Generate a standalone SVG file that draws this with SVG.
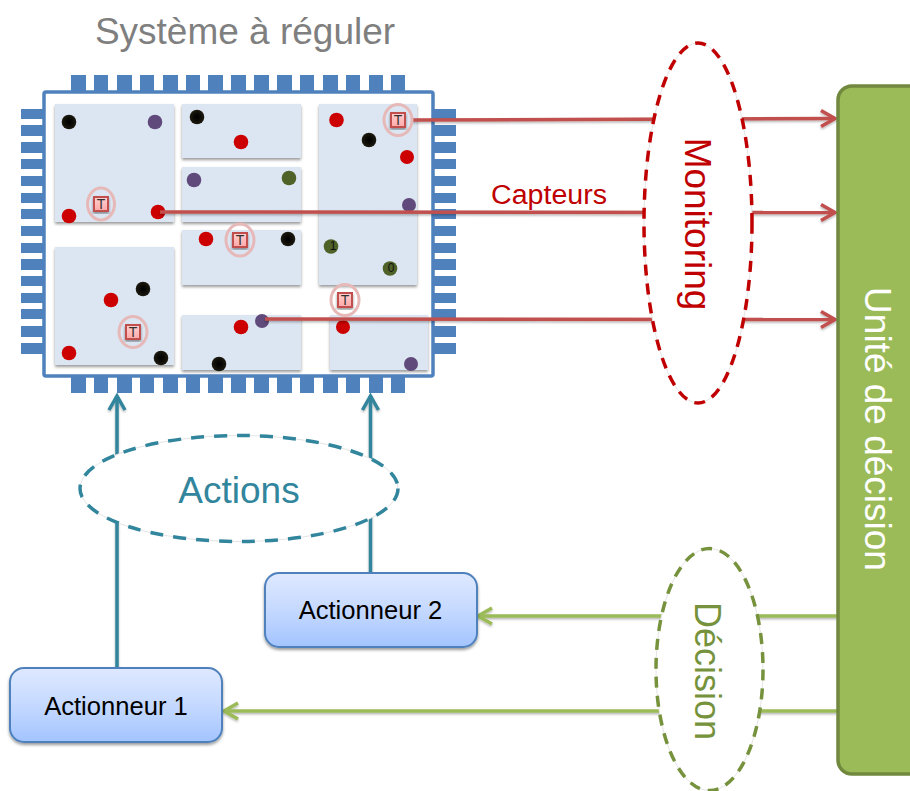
<svg xmlns="http://www.w3.org/2000/svg" width="910" height="791" viewBox="0 0 910 791">
<style>
text{font-family:"Liberation Sans",Arial,sans-serif}
.pin{fill:#4f81bd}
.panel{fill:#dce6f2;filter:url(#sh)}
.k{fill:url(#blk)}.r{fill:#cc0000}.p{fill:#604a7b}.o{fill:#4f6228}
.ring{fill:none;stroke:#e6b9b8;stroke-width:3}
.sq{fill:url(#pink);stroke:#c0504d;stroke-width:2;filter:url(#sh)}
.tt{font-size:14px;fill:#333;text-anchor:middle}
.num{font-size:12px;fill:#111;text-anchor:middle}
.red{stroke:#c0504d;stroke-width:3.5;fill:none;filter:url(#ln)}
.grn{stroke:#9bbb59;stroke-width:3.5;fill:none;filter:url(#ln)}
.teal{stroke:#31859c;stroke-width:3.5;fill:none;filter:url(#ln)}
.act{fill:url(#blue);stroke:#4f81bd;stroke-width:2;filter:url(#sh)}
.lab{font-size:25.6px;fill:#000;text-anchor:middle}
.big{font-size:37px;text-anchor:middle}
.halo{fill:#fff;stroke:#e4e4e4;stroke-width:1}
.dash{fill:none;stroke-width:3.5;stroke-dasharray:11 8}
</style>
<defs>
<filter id="sh" x="-15%" y="-15%" width="130%" height="135%"><feDropShadow dx="0" dy="2" stdDeviation="1.5" flood-color="#000" flood-opacity=".4"/></filter>
<filter id="ln" filterUnits="userSpaceOnUse" x="0" y="0" width="910" height="791"><feDropShadow dx="0" dy="1.5" stdDeviation="1" flood-color="#000" flood-opacity=".3"/></filter>
<radialGradient id="blk"><stop offset="0" stop-color="#000"/><stop offset=".5" stop-color="#0c0b06"/><stop offset="1" stop-color="#1d1b10"/></radialGradient>
<linearGradient id="pink" x1="0" y1="0" x2="0" y2="1"><stop offset="0" stop-color="#ffd0d0"/><stop offset="1" stop-color="#ffa8a8"/></linearGradient>
<linearGradient id="blue" x1="0" y1="0" x2="0" y2="1"><stop offset="0" stop-color="#dfe9ff"/><stop offset=".5" stop-color="#c5d9ff"/><stop offset="1" stop-color="#a3c4ff"/></linearGradient>
<marker id="aR" markerUnits="userSpaceOnUse" markerWidth="20" markerHeight="24" refX="16" refY="12" orient="auto" overflow="visible"><path d="M2,4 L16,12 L2,20" fill="none" stroke="#c0504d" stroke-width="3.5"/></marker>
<marker id="aG" markerUnits="userSpaceOnUse" markerWidth="20" markerHeight="24" refX="16" refY="12" orient="auto" overflow="visible"><path d="M2,4 L16,12 L2,20" fill="none" stroke="#9bbb59" stroke-width="3.5"/></marker>
<marker id="aT" markerUnits="userSpaceOnUse" markerWidth="20" markerHeight="24" refX="16" refY="12" orient="auto" overflow="visible"><path d="M2,4 L16,12 L2,20" fill="none" stroke="#31859c" stroke-width="3.5"/></marker>
</defs>
<rect width="910" height="791" fill="#fff"/>

<g id="chip">
<g class="pin">
<rect x="71" y="75" width="15" height="17"/><rect x="94" y="75" width="14" height="17"/><rect x="117" y="75" width="15" height="17"/><rect x="140" y="75" width="14" height="17"/><rect x="163" y="75" width="15" height="17"/><rect x="186" y="75" width="14" height="17"/><rect x="208" y="75" width="15" height="17"/><rect x="231" y="75" width="15" height="17"/><rect x="254" y="75" width="15" height="17"/><rect x="277" y="75" width="15" height="17"/><rect x="300" y="75" width="14" height="17"/><rect x="323" y="75" width="15" height="17"/><rect x="346" y="75" width="14" height="17"/><rect x="369" y="75" width="14" height="17"/><rect x="391" y="75" width="14" height="17"/>
<rect x="71" y="375" width="15" height="18"/><rect x="94" y="375" width="14" height="18"/><rect x="117" y="375" width="15" height="18"/><rect x="140" y="375" width="14" height="18"/><rect x="163" y="375" width="15" height="18"/><rect x="186" y="375" width="14" height="18"/><rect x="208" y="375" width="15" height="18"/><rect x="231" y="375" width="15" height="18"/><rect x="254" y="375" width="15" height="18"/><rect x="277" y="375" width="15" height="18"/><rect x="300" y="375" width="14" height="18"/><rect x="323" y="375" width="15" height="18"/><rect x="346" y="375" width="14" height="18"/><rect x="369" y="375" width="14" height="18"/><rect x="391" y="375" width="14" height="18"/>
<rect x="21" y="109" width="23" height="10"/><rect x="21" y="125" width="23" height="11"/><rect x="21" y="142" width="23" height="11"/><rect x="21" y="159" width="23" height="10"/><rect x="21" y="176" width="23" height="10"/><rect x="21" y="193" width="23" height="10"/><rect x="21" y="209" width="23" height="10"/><rect x="21" y="226" width="23" height="10"/><rect x="21" y="243" width="23" height="10"/><rect x="21" y="259" width="23" height="11"/><rect x="21" y="276" width="23" height="10"/><rect x="21" y="293" width="23" height="10"/><rect x="21" y="309" width="23" height="10"/><rect x="21" y="326" width="23" height="11"/><rect x="21" y="343" width="23" height="11"/>
<rect x="432" y="109" width="24" height="10"/><rect x="432" y="125" width="24" height="11"/><rect x="432" y="142" width="24" height="11"/><rect x="432" y="159" width="24" height="10"/><rect x="432" y="176" width="24" height="10"/><rect x="432" y="193" width="24" height="10"/><rect x="432" y="209" width="24" height="10"/><rect x="432" y="226" width="24" height="10"/><rect x="432" y="243" width="24" height="10"/><rect x="432" y="259" width="24" height="11"/><rect x="432" y="276" width="24" height="10"/><rect x="432" y="293" width="24" height="10"/><rect x="432" y="309" width="24" height="10"/><rect x="432" y="326" width="24" height="11"/><rect x="432" y="343" width="24" height="11"/>
</g>
<rect x="44" y="92" width="389" height="284" rx="2" fill="#fff" stroke="#4f81bd" stroke-width="3.5"/>
<rect class="panel" x="55" y="104" width="119" height="118"/>
<rect class="panel" x="182" y="104" width="119" height="54"/>
<rect class="panel" x="182" y="167" width="119" height="55"/>
<rect class="panel" x="182" y="230" width="119" height="55"/>
<rect class="panel" x="55" y="247" width="119" height="118"/>
<rect class="panel" x="182" y="315" width="119" height="55"/>
<rect class="panel" x="319" y="104" width="98" height="181"/>
<rect class="panel" x="330" y="315" width="98" height="55"/>
<circle class="k" cx="69" cy="122" r="7.3"/><circle class="p" cx="155" cy="122" r="7.3"/><circle class="r" cx="69" cy="216" r="7.3"/><circle class="r" cx="158" cy="212" r="7.3"/>
<circle class="k" cx="197" cy="117" r="7.3"/><circle class="r" cx="241" cy="142" r="7.3"/><circle class="p" cx="194" cy="180" r="7.3"/><circle class="o" cx="289" cy="178" r="7.3"/>
<circle class="r" cx="206" cy="239" r="7.3"/><circle class="k" cx="288" cy="239" r="7.3"/>
<circle class="r" cx="336.500" cy="120" r="7.3"/><circle class="k" cx="369" cy="140" r="7.3"/><circle class="r" cx="407" cy="157" r="7"/><circle class="p" cx="409" cy="205" r="7"/>
<circle class="o" cx="331" cy="246.500" r="7.3"/><circle class="o" cx="390" cy="268.500" r="7.3"/>
<text class="num" x="333" y="250">1</text><text class="num" x="391" y="272">0</text>
<circle class="k" cx="143" cy="289" r="7.3"/><circle class="r" cx="111" cy="300" r="7.3"/><circle class="r" cx="69" cy="353" r="7.3"/><circle class="k" cx="161" cy="358" r="7.3"/>
<circle class="r" cx="241" cy="327" r="7.3"/><circle class="p" cx="262" cy="321" r="7"/><circle class="k" cx="219" cy="364" r="7.3"/><circle class="r" cx="343" cy="327" r="7"/><circle class="p" cx="411" cy="364" r="7"/>
</g>

<g id="connectors">
<line class="red" x1="412" y1="120" x2="835" y2="118.500" marker-end="url(#aR)"/>
<line class="red" x1="160" y1="212" x2="835" y2="212.500" marker-end="url(#aR)"/>
<line class="red" x1="265" y1="319" x2="835" y2="319.500" marker-end="url(#aR)"/>
<line class="grn" x1="837" y1="616" x2="478" y2="616" marker-end="url(#aG)"/>
<line class="grn" x1="837" y1="711" x2="224" y2="711" marker-end="url(#aG)"/>
<line class="teal" x1="117" y1="668" x2="117" y2="396" marker-end="url(#aT)"/>
<line class="teal" x1="370.500" y1="573" x2="370.500" y2="396" marker-end="url(#aT)"/>
</g>

<g id="sensor1"><ellipse class="ring" cx="101" cy="204" rx="13.500" ry="16"/><rect class="sq" x="94" y="197" width="14" height="14"/><text class="tt" x="101" y="209">T</text></g>
<g id="sensor2"><ellipse class="ring" cx="398" cy="120" rx="14" ry="15.500"/><rect class="sq" x="391" y="113" width="14" height="14"/><text class="tt" x="398" y="125">T</text></g>
<g id="sensor3"><ellipse class="ring" cx="240" cy="240" rx="14" ry="16"/><rect class="sq" x="233" y="233" width="14" height="14"/><text class="tt" x="240" y="245">T</text></g>
<g id="sensor4"><ellipse class="ring" cx="133" cy="332" rx="14" ry="15.500"/><rect class="sq" x="126" y="325" width="14" height="14"/><text class="tt" x="133" y="337">T</text></g>
<g id="sensor5"><ellipse class="ring" cx="345" cy="300" rx="14" ry="15.500"/><rect class="sq" x="338" y="293" width="14" height="14"/><text class="tt" x="345" y="305">T</text></g>

<g id="title"><text class="big" x="245" y="44" fill="#7f7f7f">Système à réguler</text></g>
<g id="capteurs"><text x="549" y="204" font-size="27" fill="#c00000" text-anchor="middle" textLength="116" lengthAdjust="spacingAndGlyphs">Capteurs</text></g>

<g id="monitoring">
<ellipse class="halo" cx="698" cy="223" rx="54" ry="180"/>
<ellipse class="dash" cx="698" cy="223" rx="54" ry="180" stroke="#c00000"/>
<text class="big" transform="translate(681,224) rotate(90)" fill="#c00000" dy="0" y="-4">Monitoring</text>
</g>
<g id="decision-unit">
<rect x="838" y="86" width="90" height="688" rx="14" fill="#9bbb59" stroke="#71893f" stroke-width="3.5"/>
<text class="big" transform="translate(865,429) rotate(90)" fill="#fff">Unité de décision</text>
</g>
<g id="decision">
<ellipse class="halo" cx="709.500" cy="669.500" rx="53.500" ry="121"/>
<ellipse class="dash" cx="709.500" cy="669.500" rx="53.500" ry="121" stroke="#76923c"/>
<text class="big" transform="translate(695,671) rotate(90)" style="font-size:36px" fill="#76923c">Décision</text>
</g>
<g id="actions">
<ellipse class="halo" cx="239" cy="488.500" rx="159" ry="53"/>
<ellipse class="dash" cx="239" cy="488.500" rx="159" ry="53" stroke="#31859c" style="stroke-dasharray:13 10"/>
<text class="big" x="239" y="503" fill="#31859c">Actions</text>
</g>
<g id="actionneur2"><rect class="act" x="265" y="573" width="212" height="74" rx="14"/><text class="lab" x="370.500" y="619">Actionneur 2</text></g>
<g id="actionneur1"><rect class="act" x="10" y="668" width="212" height="74" rx="14"/><text class="lab" x="116" y="715">Actionneur 1</text></g>
</svg>
